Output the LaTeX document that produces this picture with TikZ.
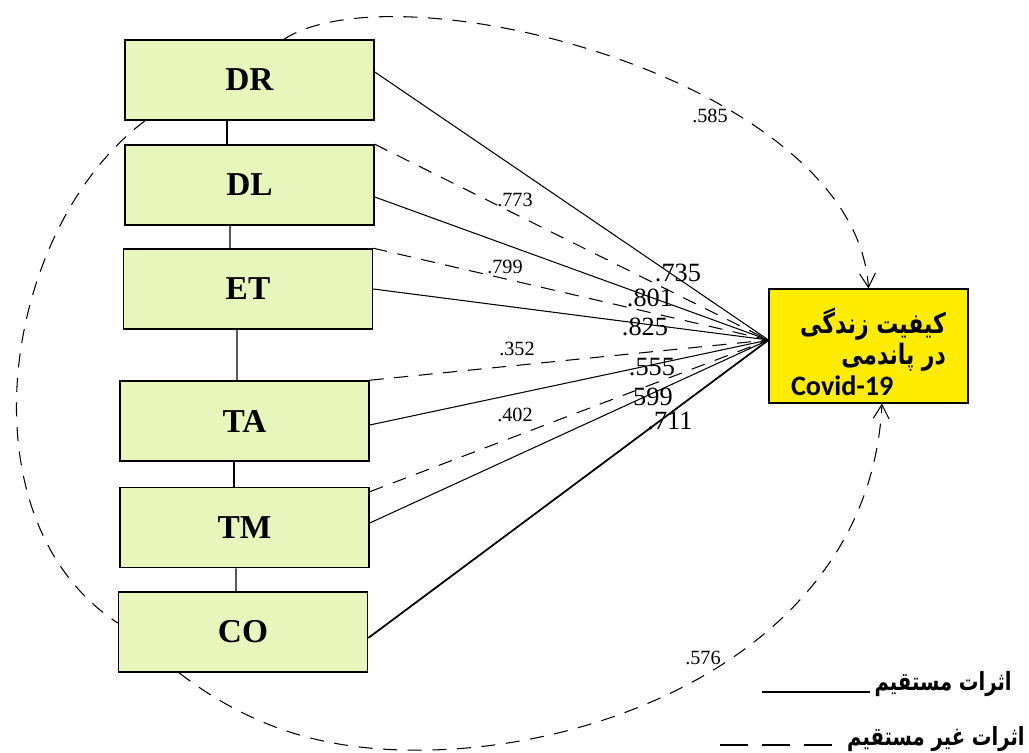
\documentclass[tikz,border=0pt]{standalone}
\usepackage{fontspec}
\setmainfont{Liberation Serif}
\newfontfamily\farsi[Script=Arabic,FakeStretch=0.78]{DejaVu Sans}
\newfontfamily\calib{Carlito}
\TeXXeTstate=1
\usepackage{tikz}
\usetikzlibrary{positioning,arrows.meta}
\definecolor{boxgreen}{RGB}{232,246,188}
\definecolor{qlyellow}{RGB}{255,236,0}

\begin{document}
\begin{tikzpicture}[x=0.02cm,y=-0.02cm,
  box/.style={draw,line width=0.9pt,fill=boxgreen,minimum width=4.98cm,minimum height=1.6cm,inner sep=0pt,font=\fontsize{19}{19}\selectfont\bfseries},
  direct/.style={line width=0.6pt},
  indirect/.style={line width=0.6pt,dash pattern=on 8pt off 6pt},
  lbl/.style={inner sep=0pt,font=\fontsize{11.5}{12}\selectfont},
  big/.style={inner sep=0pt,font=\fontsize{15}{15}\selectfont},
  tip/.style={-{Straight Barb[length=8pt,width=9pt]}}]
\useasboundingbox (0,0) rectangle (1029,753);
\node[box] (DR) at (249.5,80) {DR};
\node[box] (DL) at (249.5,185) {DL};
\node[box] (ET) at (248,289) {ET};
\node[box] (TA) at (244.5,421) {TA};
\node[box] (TM) at (244.5,527.5) {TM};
\node[box] (CO) at (243,632) {CO};
\node[draw,fill=qlyellow,line width=0.6pt,minimum width=3.98cm,minimum height=2.28cm,inner sep=0pt,align=right,font=\farsi\bfseries\fontsize{16}{17.5}\selectfont] (QL) at (868.5,346) {\rule{0pt}{0.75cm}\beginR کیفیت زندگی\endR\\\beginR در پاندمی\endR\\{\calib\bfseries\fontsize{16}{17.5}\selectfont Covid-19}\hspace*{1.05cm}};
\coordinate (hub) at ([yshift=0.12cm]QL.west);
\draw[direct] ([xshift=-0.45cm]DR.south) -- ([xshift=-0.45cm]DL.north);
\draw[direct] ([xshift=-0.39cm]DL.south) -- ([xshift=-0.36cm]ET.north);
\draw[direct] ([xshift=-0.22cm]ET.south) -- ([xshift=-0.15cm]TA.north);
\draw[direct] ([xshift=-0.21cm]TA.south) -- ([xshift=-0.21cm]TM.north);
\draw[direct] ([xshift=-0.17cm]TM.south) -- ([xshift=-0.14cm]CO.north);
\draw[direct] ([yshift=0.16cm]DR.east) -- (hub);
\draw[direct] ([yshift=-0.24cm]DL.east) -- (hub);
\draw[direct] (ET.east) -- (hub);
\draw[direct] ([yshift=-0.08cm]TA.east) -- (hub);
\draw[direct] ([yshift=0.09cm]TM.east) -- (hub);
\draw[direct,line width=1pt] ([yshift=-0.12cm]CO.east) -- (hub);
\draw[indirect] (DL.north east) -- (hub);
\draw[indirect] (ET.north east) -- (hub);
\draw[indirect] (TA.north east) -- (hub);
\draw[indirect] ([yshift=-0.1cm]TM.north east) -- (hub);
\draw[indirect,tip] ([xshift=0.69cm]DR.north) .. controls (400,-35) and (855,80) .. (QL.north);
\draw[indirect] ([xshift=-2.09cm]DR.south) .. controls (0,230) and (-40,520) .. ([yshift=0.18cm]CO.west);
\draw[indirect,tip] ([xshift=-1.28cm]CO.south) .. controls (260,735) and (340,752) .. (430,750) .. controls (620,746) and (870,640) .. ([xshift=0.27cm]QL.south);
\node[lbl] (w1) at (515,200) {.773};
\node[lbl] (w2) at (505,267) {.799};
\node[lbl] (w3) at (517,349) {.352};
\node[lbl] (w4) at (515,415) {.402};
\node[lbl] (w5) at (710,116) {.585};
\node[lbl] (w6) at (703,658) {.576};
\node[big] (b1) at (678,273) {.735};
\node[big] (b2) at (650,298) {.801};
\node[big] (b3) at (645,327) {.825};
\node[big] (b4) at (652,367) {.555};
\node[big] (b5) at (653,397) {599};
\node[big] (b6) at (670,421) {.711};
\node[anchor=east,inner sep=0pt,font=\farsi\bfseries\fontsize{14.3}{15}\selectfont] (leg1) at (1012,684) {\beginR اثرات مستقیم\endR};
\node[anchor=east,inner sep=0pt,font=\farsi\bfseries\fontsize{14.3}{15}\selectfont] (leg2) at (1025,739) {\beginR اثرات غیر مستقیم\endR};
\coordinate (s1) at (762,692);
\coordinate (s2) at (870,692);
\coordinate (s3) at (720,745);
\coordinate (s4) at (832,745);
\draw[direct] (s1) -- (s2);
\draw[line width=0.6pt,dash pattern=on 0.56cm off 0.28cm] (s3) -- (s4);
\end{tikzpicture}
\end{document}
